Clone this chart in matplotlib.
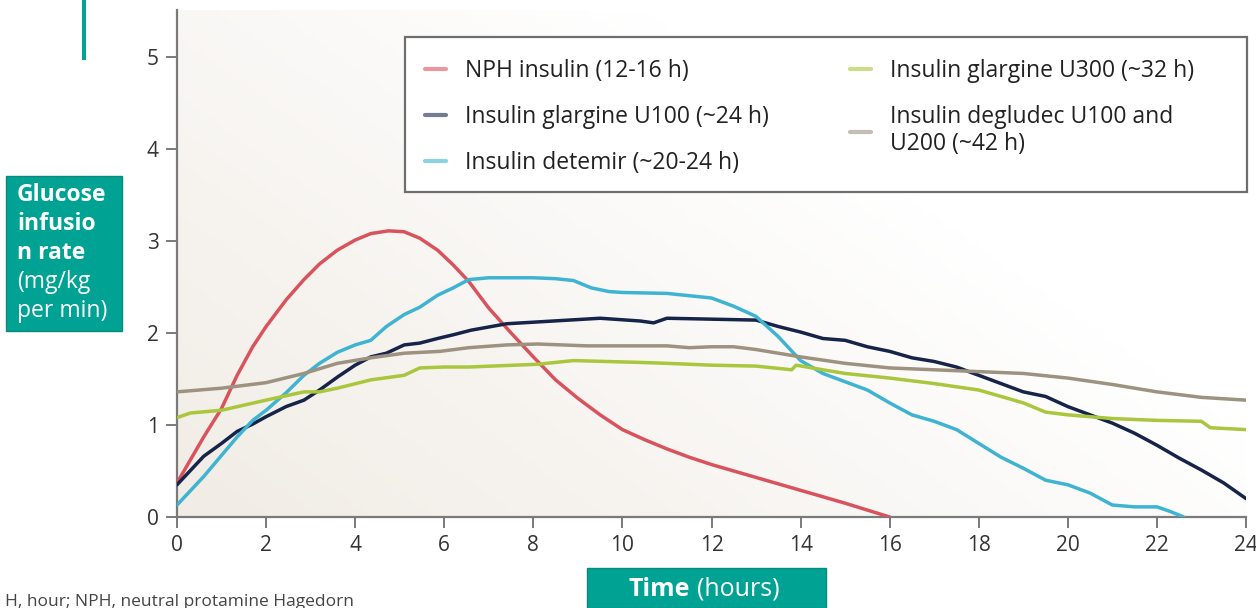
import numpy as np
import matplotlib.pyplot as plt
from matplotlib.colors import LinearSegmentedColormap
from matplotlib.patches import Rectangle

# Courbes (heures, mg/kg/min)
nph_t = [0, 0.6, 1.0, 1.35, 1.7, 2.0, 2.45, 2.85, 3.2, 3.6, 4.0, 4.35, 4.75, 5.1, 5.45, 5.85, 6.2, 6.55,
         7.0, 7.5, 8.0, 8.5, 9.0, 9.5, 10.0, 10.5, 11, 11.5, 12, 13, 14, 15, 16]
nph_v = [0.37, 0.87, 1.18, 1.54, 1.85, 2.07, 2.36, 2.58, 2.75, 2.9, 3.01, 3.08, 3.11, 3.1, 3.03, 2.9, 2.74, 2.56,
         2.27, 2.0, 1.74, 1.49, 1.29, 1.11, 0.95, 0.84, 0.74, 0.65, 0.57, 0.43, 0.29, 0.15, 0.0]

u100_t = [0, 0.6, 1.0, 1.35, 1.7, 2.0, 2.45, 2.85, 3.2, 3.6, 4.0, 4.35, 4.7, 5.1, 5.45, 5.85, 6.2, 6.6, 7.4,
          8.1, 9.5, 10.4, 10.7, 11, 12, 13, 13.5, 14, 14.5, 15, 15.5, 16, 16.5, 17, 17.5, 18, 18.5, 19,
          19.5, 20, 20.5, 21, 21.5, 22, 22.5, 23, 23.5, 24]
u100_v = [0.35, 0.66, 0.8, 0.93, 1.01, 1.09, 1.2, 1.27, 1.38, 1.52, 1.65, 1.74, 1.78, 1.87, 1.89, 1.94, 1.98,
          2.03, 2.1, 2.12, 2.16, 2.13, 2.11, 2.16, 2.15, 2.14, 2.07, 2.01, 1.94, 1.92, 1.85, 1.8, 1.73, 1.69,
          1.63, 1.54, 1.45, 1.36, 1.31, 1.2, 1.11, 1.02, 0.91, 0.78, 0.64, 0.51, 0.37, 0.2]

detemir_t = [0, 0.6, 1.0, 1.35, 1.7, 2.0, 2.45, 2.85, 3.2, 3.6, 4.0, 4.35, 4.7, 5.1, 5.45, 5.85, 6.2, 6.55,
             7.0, 8.0, 8.5, 8.9, 9.3, 9.7, 10, 11, 12, 12.5, 13, 13.5, 14, 14.5, 15, 15.5, 16, 16.5, 17,
             17.5, 18, 18.5, 19, 19.5, 20, 20.5, 21, 21.5, 22, 22.3, 22.6]
detemir_v = [0.13, 0.44, 0.67, 0.87, 1.05, 1.16, 1.35, 1.54, 1.67, 1.79, 1.87, 1.92, 2.07, 2.2, 2.28, 2.41,
             2.49, 2.58, 2.6, 2.6, 2.59, 2.57, 2.49, 2.45, 2.44, 2.43, 2.38, 2.29, 2.18, 1.96, 1.7, 1.56,
             1.47, 1.38, 1.24, 1.11, 1.04, 0.95, 0.8, 0.65, 0.53, 0.4, 0.35, 0.26, 0.13, 0.11, 0.11, 0.06, 0.0]

u300_t = [0, 0.3, 1.0, 2.0, 2.85, 3.2, 3.6, 4.35, 5.1, 5.45, 6.0, 6.55, 8.1, 8.9, 10.4, 11, 12, 13, 13.8,
          13.9, 14.5, 15, 16, 17, 18, 18.5, 19, 19.5, 20, 21, 22, 23, 23.2, 24]
u300_v = [1.08, 1.13, 1.16, 1.27, 1.36, 1.36, 1.4, 1.49, 1.54, 1.62, 1.63, 1.63, 1.66, 1.7, 1.68, 1.67, 1.65,
          1.64, 1.6, 1.65, 1.6, 1.56, 1.51, 1.45, 1.38, 1.31, 1.24, 1.14, 1.11, 1.07, 1.05, 1.04, 0.97, 0.95]

degludec_t = [0, 1, 2, 2.85, 3.6, 4.35, 5.1, 5.9, 6.55, 7.4, 8.1, 9.2, 10.4, 11, 11.5, 12, 12.5, 13, 14, 15,
              16, 17, 18, 19, 20, 21, 22, 23, 24]
degludec_v = [1.36, 1.4, 1.46, 1.56, 1.67, 1.73, 1.78, 1.8, 1.84, 1.87, 1.88, 1.86, 1.86, 1.86, 1.84, 1.85,
              1.85, 1.82, 1.74, 1.67, 1.62, 1.6, 1.58, 1.56, 1.51, 1.44, 1.36, 1.3, 1.27]

series = [
    (nph_t, nph_v, '#d9535d', 'NPH insulin (12-16 h)'),
    (u100_t, u100_v, '#17244a', 'Insulin glargine U100 (~24 h)'),
    (detemir_t, detemir_v, '#3fb3d2', 'Insulin detemir (~20-24 h)'),
    (u300_t, u300_v, '#a9c63c', 'Insulin glargine U300 (~32 h)'),
    (degludec_t, degludec_v, '#9d927f', 'Insulin degludec U100 and\nU200 (~42 h)'),
]

teal = '#00a393'
plt.rcParams['font.family'] = ['Open Sans', 'DejaVu Sans']

fig = plt.figure(figsize=(12.56, 6.08), dpi=100)
ax = fig.add_axes([177 / 1256, 1 - 517 / 608, 1069 / 1256, 507 / 608])

# fond légèrement dégradé
gx, gy = np.meshgrid(np.linspace(0, 1, 200), np.linspace(0, 1, 100))
grad = np.clip(1 - (gx * 0.9 + gy * 0.6), 0, 1)
ax.imshow(grad, extent=[0, 24, 0, 5.51], origin='lower', aspect='auto',
          cmap=LinearSegmentedColormap.from_list('bg', ['#ffffff', '#f1ece5']), zorder=0)

handles = []
for t, v, c, lab in series:
    h, = ax.plot(t, v, color=c, lw=2.5, label=lab, zorder=3, solid_capstyle='round')
    handles.append(h)

ax.set_xlim(0, 24)
ax.set_ylim(0, 5.51)
ax.set_xticks(range(0, 25, 2))
ax.set_yticks(range(0, 6))
for s in ['top', 'right']:
    ax.spines[s].set_visible(False)
for s in ['left', 'bottom']:
    ax.spines[s].set_color('#7a7a7a')
    ax.spines[s].set_linewidth(1.6)
ax.tick_params(direction='out', length=8, width=1.4, color='#7a7a7a',
               labelsize=15, labelcolor='#333333', pad=5)

# légende encadrée
fig.patches.append(Rectangle((405 / 1256, 1 - 192 / 608), 842 / 1256, 155 / 608,
                             transform=fig.transFigure, facecolor='white',
                             edgecolor='#6e6e6e', lw=1.6, zorder=4))
leg_kw = dict(loc='upper left', frameon=False, fontsize=16.5, handlelength=0.9,
              handletextpad=0.85, labelspacing=0.95, borderpad=0, borderaxespad=0)
leg1 = fig.legend(handles=handles[:3], bbox_to_anchor=(425 / 1256, 1 - 59 / 608), **leg_kw)
leg2 = fig.legend(handles=handles[3:], bbox_to_anchor=(850 / 1256, 1 - 59 / 608), **leg_kw)
for leg in (leg1, leg2):
    leg.set_zorder(5)
    for lh in leg.get_lines():
        lh.set_alpha(0.6)
        lh.set_linewidth(3)
    for txt in leg.get_texts():
        txt.set_color('#222222')

# barre décorative et encadrés d'étiquettes
fig.patches.append(Rectangle((82 / 1256, 1 - 60 / 608), 4 / 1256, 60 / 608,
                             transform=fig.transFigure, facecolor=teal, edgecolor='none'))
fig.patches.append(Rectangle((6 / 1256, 1 - 331 / 608), 116 / 1256, 155 / 608,
                             transform=fig.transFigure, facecolor=teal, edgecolor='#0a8a7c', lw=1))
ylines = [('Glucose', 'bold'), ('infusio', 'bold'), ('n rate', 'bold'), ('(mg/kg', 'normal'), ('per min)', 'normal')]
for i, (s, w) in enumerate(ylines):
    fig.text(17 / 1256, 1 - (195 + i * 29) / 608, s, color='white', fontsize=16.5,
             fontweight=w, va='center', ha='left')

fig.patches.append(Rectangle((587 / 1256, 0), 239 / 1256, 40 / 608,
                             transform=fig.transFigure, facecolor=teal, edgecolor='#0a8a7c', lw=1))
fig.text(690 / 1256, 1 - 589 / 608, 'Time', color='white', fontsize=18,
         fontweight='bold', ha='right', va='center')
fig.text(697 / 1256, 1 - 589 / 608, '(hours)', color='white', fontsize=18,
         ha='left', va='center')

fig.text(5 / 1256, 1 - 606 / 608, 'H, hour; NPH, neutral protamine Hagedorn',
         color='#444444', fontsize=12.5, ha='left', va='baseline')

fig.savefig('out.png', dpi=100)
